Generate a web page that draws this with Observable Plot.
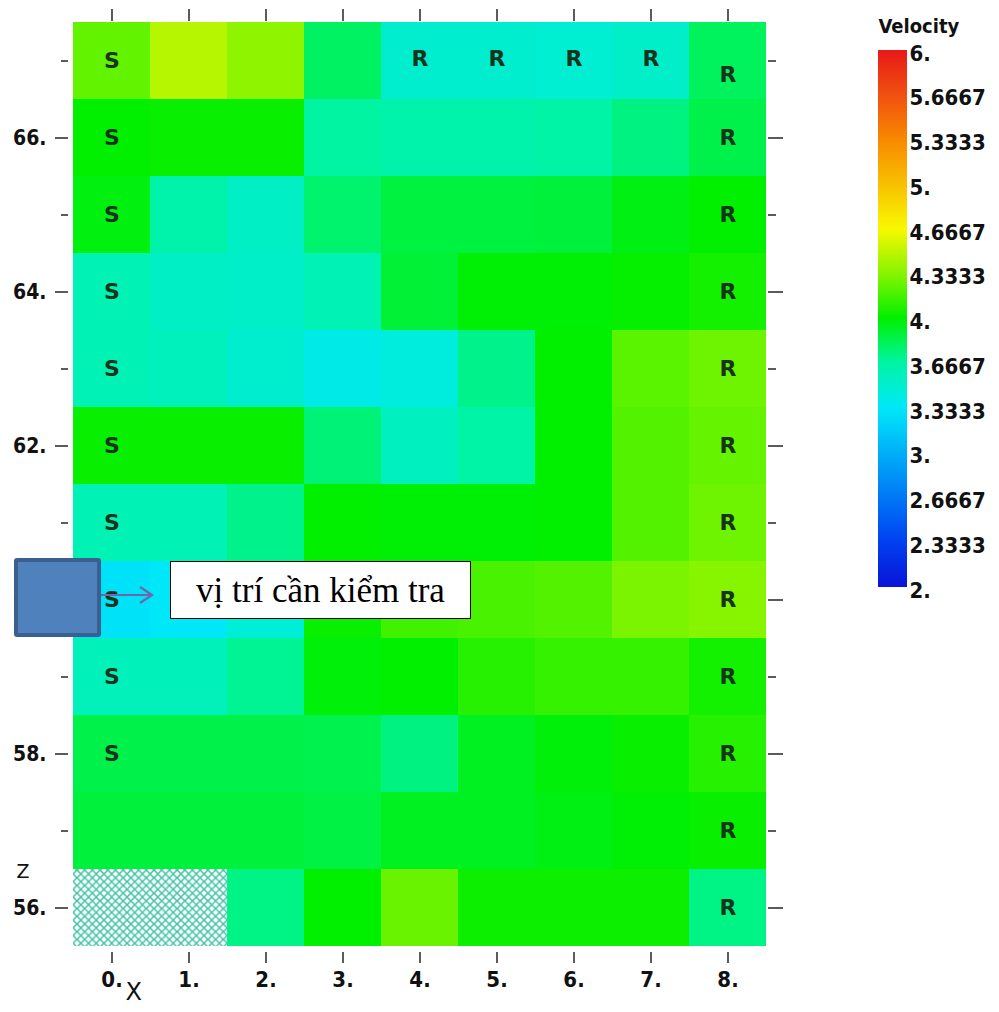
<!DOCTYPE html>
<html><head><meta charset="utf-8">
<script src="https://cdn.jsdelivr.net/npm/d3@7"></script>
<script src="https://cdn.jsdelivr.net/npm/@observablehq/plot@0.6"></script>
<style>
body{margin:0;background:#fff;}
#wrap{position:relative;width:999px;height:1012px;overflow:hidden;background:#fff;}
#main{position:absolute;left:0;top:0;}
#legend{position:absolute;left:860px;top:0;}
#marker{position:absolute;left:14px;top:558px;width:87px;height:79px;box-sizing:border-box;background:#4f81bd;border:4px solid #3b6090;border-radius:3px;}
#arrow{position:absolute;left:98px;top:584px;}
#note{position:absolute;left:170px;top:561px;width:301px;height:58px;box-sizing:border-box;background:#fff;border:1.5px solid #000;font-family:"Liberation Serif","Times New Roman",serif;font-size:35px;line-height:50px;padding-top:4px;text-align:center;color:#000;white-space:nowrap;}
</style></head><body>
<div id="wrap">
<div id="main"></div><div id="legend"></div>
<div id="marker"></div>
<svg id="arrow" width="60" height="22"><path d="M3,11H54M42,3L54,11L42,19" fill="none" stroke="#6c68b0" stroke-width="2.2"/></svg>
<div id="note">vị trí cần kiểm tra</div>
</div>
<script>
// ---- data ----
const xValues = [0, 1, 2, 3, 4, 5, 6, 7, 8];
const zValues = [67, 66, 65, 64, 63, 62, 61, 60, 59, 58, 57, 56];
// velocity[row][col], rows follow zValues, cols follow xValues (null = no data, hatched)
const velocity = [
  [4.24, 4.47, 4.35, 3.80, 3.50, 3.50, 3.49, 3.52, 3.81],
  [4.00, 4.02, 4.02, 3.67, 3.64, 3.64, 3.66, 3.74, 3.85],
  [3.97, 3.64, 3.54, 3.78, 3.87, 3.87, 3.88, 3.96, 4.00],
  [3.60, 3.54, 3.52, 3.60, 3.89, 3.99, 3.99, 4.01, 4.05],
  [3.60, 3.57, 3.50, 3.40, 3.44, 3.72, 4.00, 4.22, 4.27],
  [4.02, 4.02, 4.02, 3.76, 3.56, 3.66, 4.00, 4.20, 4.25],
  [3.60, 3.60, 3.72, 4.00, 3.99, 3.99, 4.00, 4.20, 4.27],
  [3.30, 3.33, 3.47, 4.02, 4.16, 4.18, 4.20, 4.30, 4.33],
  [3.58, 3.58, 3.70, 3.98, 4.00, 4.09, 4.13, 4.13, 4.05],
  [3.85, 3.85, 3.85, 3.84, 3.74, 3.93, 3.98, 4.02, 4.09],
  [3.88, 3.88, 3.88, 3.86, 3.93, 3.93, 3.96, 3.99, 4.02],
  [null, null, 3.73, 4.00, 4.26, 4.03, 4.03, 4.03, 3.73]
];
const sRows = [67, 66, 65, 64, 63, 62, 61, 60, 59, 58];
const rRowsCol8 = [66, 65, 64, 63, 62, 61, 60, 59, 58, 57, 56];
const rTopCols = [4, 5, 6, 7];
const zMajorTicks = [66, 64, 62, 60, 58, 56];
const zMinorTicks = [67, 65, 63, 61, 59, 57];
const legendTicks = [2, 2.3333, 2.6667, 3, 3.3333, 3.6667, 4, 4.3333, 4.6667, 5, 5.3333, 5.6667, 6];
const legendLabels = ["2.", "2.3333", "2.6667", "3.", "3.3333", "3.6667", "4.", "4.3333", "4.6667", "5.", "5.3333", "5.6667", "6."];
const legendColors = ["#0a14d8", "#0040f0", "#0078f6", "#00b0f8", "#00e8f8", "#00f4a4", "#00f000", "#88f400", "#f8f800", "#f8c000", "#f88800", "#f05010", "#e81818"];

// ---- tables built from the arrays ----
const cells = [], hatched = [];
zValues.forEach((z, i) => xValues.forEach((x, j) => {
  const v = velocity[i][j];
  if (v == null) hatched.push({x, z}); else cells.push({x, z, v});
}));
const sLabels = sRows.map(z => ({x: 0, z, t: "S"}));
const rTopLabels = rTopCols.map(x => ({x, z: 67, t: "R"}));
const rColLabels = rRowsCol8.map(z => ({x: 8, z, t: "R"}));
const rCornerLabel = [{x: 8, z: 67, t: "R"}];

const colorOpts = {type: "linear", domain: legendTicks, range: legendColors};
const baseStyle = {fontFamily: "'DejaVu Sans Condensed', 'DejaVu Sans', sans-serif", fontSize: "21px", fontWeight: "bold", background: "#fff", color: "#111"};
const tickStyle = {stroke: "#333", strokeWidth: 1.6, label: null};
const letterStyle = {x: "x", y: "z", text: "t", fontSize: 22, fontFamily: "'DejaVu Sans', sans-serif", fill: "#16341c"};

const main = Plot.plot({
  width: 806, height: 1012,
  marginLeft: 72, marginRight: 40, marginTop: 21, marginBottom: 66,
  style: baseStyle,
  x: {type: "band", domain: xValues, padding: 0},
  y: {type: "band", domain: zValues, padding: 0},
  color: colorOpts,
  marks: [
    Plot.cell(cells, {x: "x", y: "z", fill: "v", inset: 0, shapeRendering: "crispEdges"}),
    Plot.cell(hatched, {x: "x", y: "z", fill: "#fff", inset: 0, ariaDescription: "hatched"}),
    Plot.text(sLabels, letterStyle),
    Plot.text(rTopLabels, {...letterStyle, dy: -2}),
    Plot.text(rColLabels, letterStyle),
    Plot.text(rCornerLabel, {...letterStyle, dy: 14}),
    Plot.axisX({anchor: "top", tickSize: 12, dy: -1, fill: "none", ...tickStyle}),
    Plot.axisX({anchor: "bottom", tickSize: 11, tickPadding: 8, dy: 6, tickFormat: d => d + ".", fontSize: 22, fill: "#111", ...tickStyle}),
    Plot.axisY({anchor: "left", ticks: zMajorTicks, tickSize: 13, tickPadding: 9, dx: -4, tickFormat: d => d + ".", fill: "#111", ...tickStyle}),
    Plot.axisY({anchor: "left", ticks: zMinorTicks, tickSize: 7, dx: -4, fill: "none", ...tickStyle}),
    Plot.axisY({anchor: "right", ticks: zMajorTicks, tickSize: 15, dx: 1, fill: "none", ...tickStyle}),
    Plot.axisY({anchor: "right", ticks: zMinorTicks, tickSize: 8, dx: 1, fill: "none", ...tickStyle}),
    Plot.text(["Z"], {text: d => d, frameAnchor: "bottom-left", dx: -56, dy: -69, fontSize: 19, fontWeight: "normal", fontFamily: "'DejaVu Sans', sans-serif", fill: "#111"}),
    Plot.text(["X"], {text: d => d, frameAnchor: "bottom-left", dx: 53, dy: 53, fontSize: 24, fontWeight: "normal", fontFamily: "'DejaVu Sans', sans-serif", fill: "#111"})
  ]
});

// crosshatch pattern for the no-data cells
const ns = "http://www.w3.org/2000/svg";
const defs = document.createElementNS(ns, "defs");
const pat = document.createElementNS(ns, "pattern");
pat.setAttribute("id", "hatch");
pat.setAttribute("patternUnits", "userSpaceOnUse");
pat.setAttribute("width", "7.7");
pat.setAttribute("height", "7.7");
const bg = document.createElementNS(ns, "rect");
bg.setAttribute("width", "7.7"); bg.setAttribute("height", "7.7"); bg.setAttribute("fill", "#fff");
const pth = document.createElementNS(ns, "path");
pth.setAttribute("d", "M0,0L7.7,7.7M7.7,0L0,7.7");
pth.setAttribute("stroke", "#3fc4a4"); pth.setAttribute("stroke-width", "1.5"); pth.setAttribute("fill", "none");
pat.appendChild(bg); pat.appendChild(pth); defs.appendChild(pat);
main.insertBefore(defs, main.firstChild);
let hatchRects = main.querySelectorAll('[aria-description="hatched"] rect');
if (!hatchRects.length) {
  const groups = main.querySelectorAll('g[aria-label="cell"]');
  if (groups.length > 1) hatchRects = groups[1].querySelectorAll("rect");
}
hatchRects.forEach(r => r.setAttribute("fill", "url(#hatch)"));
document.getElementById("main").appendChild(main);

// ---- colour bar ----
const ramp = d3.range(2, 6, 0.005);
const legend = Plot.plot({
  width: 139, height: 620,
  marginLeft: 18, marginRight: 92, marginTop: 50, marginBottom: 33,
  style: baseStyle,
  x: {domain: [0, 1], axis: null},
  y: {domain: [2, 6], axis: null},
  color: colorOpts,
  marks: [
    Plot.rect(ramp, {x1: 0, x2: 1, y1: d => d, y2: d => Math.min(6, d + 0.006), fill: d => d, shapeRendering: "crispEdges"}),
    Plot.text(legendTicks, {x: 1, y: d => d, text: (d, i) => legendLabels[i], textAnchor: "start", dx: 2, dy: 3, fontSize: 22, fill: "#111"}),
    Plot.text(["Velocity"], {text: d => d, frameAnchor: "top-left", textAnchor: "start", dy: -32, fontSize: 20, fill: "#111"})
  ]
});
document.getElementById("legend").appendChild(legend);
</script>
</body></html>
